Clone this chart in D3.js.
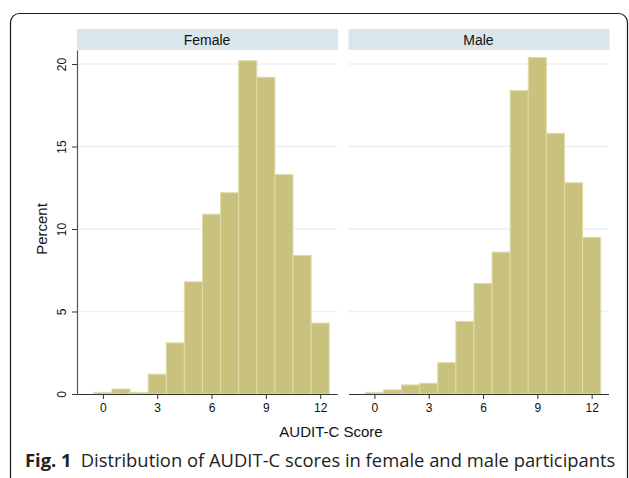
<!DOCTYPE html>
<html>
<head>
<meta charset="utf-8">
<script src="https://cdn.jsdelivr.net/npm/d3@7"></script>
<style>
    body { margin: 0; background: #fff; }
    svg { display: block; }
    .Tick text { font-family: "Liberation Sans", Arial, sans-serif; }
</style>
</head>
<body>
<div class="Chart"></div>
<script>

// AUDIT-C score bins and percentage of participants per bin
const scores = [0, 1, 2, 3, 4, 5, 6, 7, 8, 9, 10, 11, 12];
const female_percent = [0.1, 0.3, 0.1, 1.2, 3.1, 6.8, 10.9, 12.2, 20.2, 19.2, 13.3, 8.4, 4.3];
const male_percent = [0.1, 0.25, 0.55, 0.65, 1.9, 4.4, 6.7, 8.6, 18.4, 20.4, 15.8, 12.8, 9.5];
const panels = ["Female", "Male"];
const x_ticks = [0, 3, 6, 9, 12];
const y_ticks = [0, 5, 10, 15, 20];

const width = 629;
const height = 478;

const font = "'Liberation Sans', Arial, Helvetica, sans-serif";
const bar_fill = "#c9c27e";
const bar_stroke = "#e0dba6";
const grid_color = "#eaf1f2";
const strip_fill = "#d9e6eb";

const plot_top = 50;
const plot_bottom = 394;
const panel_width = 260;
const panel_left = [77, 348.5];

const svg = d3.select(".Chart")
    .append("svg")
    .attr("width", width)
    .attr("height", height);

// rounded figure frame, cut off at the bottom of the picture
svg.append("rect")
    .attr("x", 10.5)
    .attr("y", 13.5)
    .attr("width", 617)
    .attr("height", 540)
    .attr("rx", 9)
    .attr("fill", "none")
    .attr("stroke", "#1a1a1a")
    .attr("stroke-width", 1.2);

const y_scale = d3.scaleLinear()
    .domain([0, 20.85])
    .range([plot_bottom, plot_top]);

const series = [female_percent, male_percent];

panels.forEach((name, i) => {

    const left = panel_left[i];
    const x_scale = d3.scaleLinear()
        .domain([-1.43, 12.93])
        .range([left, left + panel_width]);

    const g = svg.append("g").attr("class", "Panel");

    // title strip
    g.append("rect")
        .attr("x", left)
        .attr("y", 29)
        .attr("width", panel_width + 1)
        .attr("height", 21)
        .attr("fill", strip_fill);
    g.append("text")
        .attr("x", left + panel_width / 2)
        .attr("y", 44.5)
        .attr("text-anchor", "middle")
        .style("font-family", font)
        .style("font-size", "14px")
        .attr("fill", "#111")
        .text(name);

    // horizontal grid lines
    g.append("g")
        .selectAll("line")
        .data(y_ticks.filter(d => d > 0))
        .join("line")
        .attr("x1", left)
        .attr("x2", left + panel_width)
        .attr("y1", d => y_scale(d))
        .attr("y2", d => y_scale(d))
        .attr("stroke", grid_color)
        .attr("stroke-width", 1.5);

    // histogram bars
    g.append("g")
        .selectAll("rect")
        .data(scores.map((s, k) => ({score: s, value: series[i][k]})))
        .join("rect")
        .attr("x", d => x_scale(d.score - 0.5))
        .attr("y", d => y_scale(d.value))
        .attr("width", d => x_scale(d.score + 0.5) - x_scale(d.score - 0.5))
        .attr("height", d => plot_bottom - y_scale(d.value))
        .attr("fill", bar_fill)
        .attr("stroke", bar_stroke)
        .attr("stroke-width", 1);

    // x axis
    const x_axis = g.append("g")
        .attr("class", "Tick")
        .attr("transform", `translate(0, ${plot_bottom})`)
        .call(d3.axisBottom(x_scale).tickValues(x_ticks).tickSize(5).tickPadding(4).tickSizeOuter(0));
    x_axis.select(".domain").attr("stroke", "#333").attr("stroke-width", 1.2);
    x_axis.selectAll(".tick line").attr("stroke", "#333");
    x_axis.selectAll("text")
        .style("font-size", "12px")
        .attr("fill", "#111");

    // y axis only on the first panel
    if (i === 0) {
        const y_axis = g.append("g")
            .attr("class", "Tick")
            .attr("transform", `translate(${left}, 0)`)
            .call(d3.axisLeft(y_scale).tickValues(y_ticks).tickSize(5).tickPadding(4).tickSizeOuter(0));
        y_axis.select(".domain").attr("stroke", "#555").attr("stroke-width", 1.2);
        y_axis.selectAll(".tick line").attr("stroke", "#333");
        y_axis.selectAll("text")
            .style("font-size", "12px")
            .attr("fill", "#111")
            .attr("text-anchor", "middle")
            .attr("x", 0)
            .attr("y", 0)
            .attr("dy", 0)
            .attr("transform", "translate(-11, 0) rotate(-90)");
    }
});

// axis titles
svg.append("text")
    .attr("x", 331)
    .attr("y", 437)
    .attr("text-anchor", "middle")
    .style("font-family", font)
    .style("font-size", "15px")
    .attr("fill", "#111")
    .text("AUDIT-C Score");

svg.append("text")
    .attr("transform", "translate(47, 229) rotate(-90)")
    .attr("text-anchor", "middle")
    .style("font-family", font)
    .style("font-size", "15px")
    .attr("fill", "#111")
    .text("Percent");

// figure caption
const caption = svg.append("text")
    .attr("x", 25)
    .attr("y", 467)
    .style("font-family", "'Open Sans', 'Noto Sans', sans-serif")
    .style("font-size", "18.4px")
    .attr("fill", "#222");
caption.append("tspan")
    .style("font-weight", "bold")
    .text("Fig. 1");
caption.append("tspan")
    .attr("dx", 9)
    .text("Distribution of AUDIT-C scores in female and male participants");

</script>
</body>
</html>
